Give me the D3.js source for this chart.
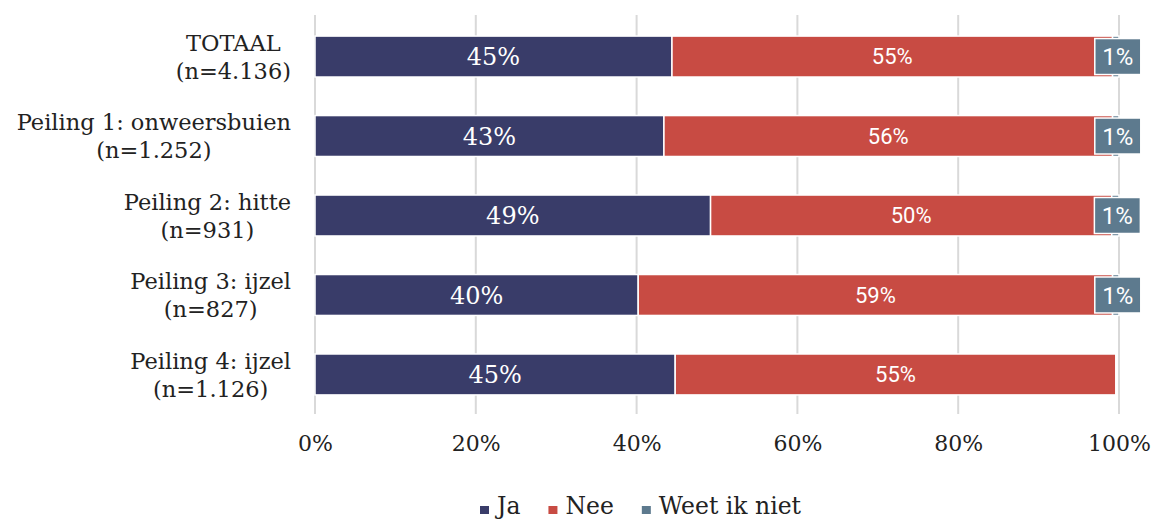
<!DOCTYPE html>
<html lang="nl">
<head>
<meta charset="UTF-8">
<title>Peilingen</title>
<script src="https://d3js.org/d3.v7.min.js"></script>
<style>
  body { margin: 0; background: #fff; }
  .cat { font: 22.5px "DejaVu Serif", serif; fill: #222; }
  .tick text { font: 22px "DejaVu Serif", serif; fill: #222; }
  .lbl-ja { font: 24px "DejaVu Serif", serif; fill: #fff; }
  .lbl-nee { font: 22px Roboto, sans-serif; fill: #fff; }
  .lbl-weet { font: 24px Roboto, sans-serif; fill: #fff; }
  .legend text { font: 23.5px "DejaVu Serif", serif; fill: #222; }
</style>
</head>
<body>
<svg id="chart" width="1156" height="521"></svg>
<script>
// data
var categories = ["TOTAAL|(n=4.136)", "Peiling 1: onweersbuien|(n=1.252)", "Peiling 2: hitte|(n=931)",
                  "Peiling 3: ijzel|(n=827)", "Peiling 4: ijzel|(n=1.126)"];
var series = ["Ja", "Nee", "Weet ik niet"];
var ja = [44.4, 43.4, 49.2, 40.2, 44.8];
var nee = [54.8, 55.8, 49.9, 59.0, 54.8];
var weet = [0.8, 0.8, 0.9, 0.8, 0];
var jaLabels = ["45%", "43%", "49%", "40%", "45%"];
var neeLabels = ["55%", "56%", "50%", "59%", "55%"];
var weetLabels = ["1%", "1%", "1%", "1%", ""];
var ticks = [0, 20, 40, 60, 80, 100];
var colors = ["#393c69", "#c84b43", "#5d7a8e"];

var svg = d3.select("#chart");
var x = d3.scaleLinear().domain([0, 100]).range([315, 1119]);
var y = d3.scaleBand().domain(categories).range([17, 414]).paddingInner(0.485).paddingOuter(0.24);
var color = d3.scaleOrdinal().domain(series).range(colors);

// gridlines
svg.append("g").selectAll("line").data(ticks).enter().append("line")
  .attr("x1", function(d) { return x(d); }).attr("x2", function(d) { return x(d); })
  .attr("y1", 15).attr("y2", 414)
  .attr("stroke", "#d9d9d9").attr("stroke-width", 2);

// x axis labels
var xAxis = svg.append("g").attr("transform", "translate(0,432)")
  .call(d3.axisBottom(x).tickValues(ticks).tickSize(0).tickFormat(function(d) { return d + "%"; }));
xAxis.select(".domain").remove();

// stacked data
var rows = categories.map(function(c, i) {
  return { cat: c, "Ja": ja[i], "Nee": nee[i], "Weet ik niet": weet[i], i: i };
});
var stack = d3.stack().keys(series)(rows);

var layers = svg.append("g").selectAll("g").data(stack).enter().append("g")
  .attr("fill", function(d) { return color(d.key); });
layers.selectAll("rect").data(function(d) { return d; }).enter().append("rect")
  .attr("x", function(d) { return x(d[0]); })
  .attr("y", function(d) { return y(d.data.cat); })
  .attr("width", function(d) { return Math.max(0, x(d[1]) - x(d[0])); })
  .attr("height", y.bandwidth())
  .attr("stroke", "#fff").attr("stroke-width", 1.5);

// labels in bars
svg.append("g").selectAll("text").data(stack[0]).enter().append("text")
  .attr("class", "lbl-ja")
  .attr("x", function(d) { return (x(d[0]) + x(d[1])) / 2; })
  .attr("y", function(d) { return y(d.data.cat) + y.bandwidth() / 2; })
  .attr("text-anchor", "middle").attr("dy", "0.36em")
  .text(function(d) { return jaLabels[d.data.i]; });

svg.append("g").selectAll("text").data(stack[1]).enter().append("text")
  .attr("class", "lbl-nee")
  .attr("x", function(d) { return (x(d[0]) + x(d[1])) / 2; })
  .attr("y", function(d) { return y(d.data.cat) + y.bandwidth() / 2; })
  .attr("text-anchor", "middle").attr("dy", "0.36em")
  .text(function(d) { return neeLabels[d.data.i]; });

// callouts for weet ik niet
var callouts = svg.append("g").selectAll("g").data(stack[2].filter(function(d) { return weetLabels[d.data.i]; }))
  .enter().append("g")
  .attr("transform", function(d) {
    return "translate(" + ((x(d[0]) + x(d[1])) / 2 + 2) + "," + (y(d.data.cat) + y.bandwidth() / 2) + ")";
  });
callouts.append("rect")
  .attr("x", -23).attr("y", -18).attr("width", 46).attr("height", 36)
  .attr("fill", colors[2]).attr("stroke", "#fff").attr("stroke-width", 1.5);
callouts.append("text")
  .attr("class", "lbl-weet").attr("text-anchor", "middle").attr("dy", "0.36em")
  .text(function(d) { return weetLabels[d.data.i]; });

// category labels, two lines, centred block right-aligned to 291
var cats = svg.append("g").selectAll("g").data(categories).enter().append("g");
cats.each(function(c) {
  var g = d3.select(this);
  var lines = c.split("|");
  var cy = y(c) + y.bandwidth() / 2;
  var texts = lines.map(function(l, k) {
    return g.append("text").attr("class", "cat").attr("text-anchor", "middle")
      .attr("y", cy + (k === 0 ? -14 : 14)).attr("dy", "0.36em").text(l);
  });
  var w = d3.max(texts, function(t) { return t.node().getComputedTextLength(); });
  texts.forEach(function(t) { t.attr("x", 291 - w / 2); });
});

// legend
var legend = svg.append("g").attr("class", "legend");
var lx = 480;
series.forEach(function(s) {
  var g = legend.append("g").attr("transform", "translate(" + lx + ",506)");
  g.append("rect").attr("x", 0).attr("y", 0).attr("width", 9).attr("height", 8).attr("fill", color(s));
  var t = g.append("text").attr("x", 17).attr("dy", "0.36em").text(s);
  lx += 17 + t.node().getComputedTextLength() + 28;
});
</script>
</body>
</html>
